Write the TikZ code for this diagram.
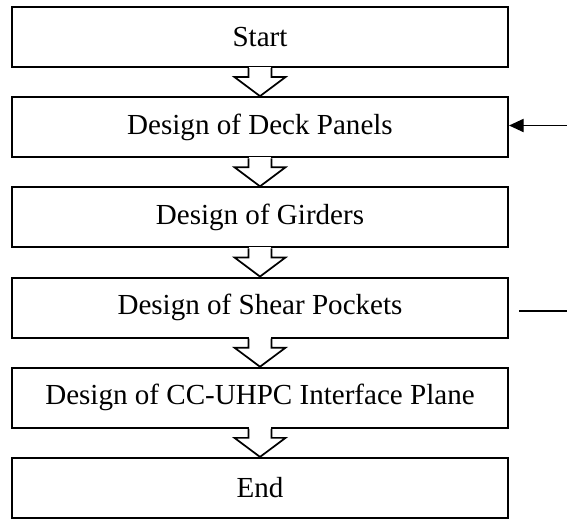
\documentclass[tikz,border=0pt]{standalone}
\usepackage{fontspec}
\setmainfont{Liberation Serif}
\usetikzlibrary{arrows.meta,calc}

\begin{document}
\begin{tikzpicture}[
  x=0.75pt, y=-0.75pt,
  font=\fontsize{21.8}{24}\selectfont,
  stepbox/.style={draw, fill=white, rectangle, line width=1.6pt,
                  minimum width=372pt, minimum height=45pt,
                  inner sep=0pt, align=center},
  blk/.style={line width=1.3pt, line join=miter},
  fb/.style={-{Triangle[length=11pt,width=10pt]}, line width=0.9pt},
  fbl/.style={line width=0.9pt},
]
  \useasboundingbox (0,0) rectangle (567,519);
  \def\xM{260}  % centre line of the steps

  % --- Steps ---
  \node[stepbox] (start)  at (\xM,37.0)  {Start};
  \node[stepbox] (deck)   at (\xM,127.2) {Design of Deck Panels};
  \node[stepbox] (girder) at (\xM,217.4) {Design of Girders};
  \node[stepbox] (shear)  at (\xM,307.6) {Design of Shear Pockets};
  \node[stepbox] (iface)  at (\xM,397.8) {Design of CC-UHPC Interface Plane};
  \node[stepbox] (end)    at (\xM,488.0) {End};

  % --- Block arrows between steps ---
  \foreach \a/\b in {start/deck, deck/girder, girder/shear,
                     shear/iface, iface/end} {
    \fill[white] ($(\a.south)+(-10.8,-1.5)$) rectangle ($(\b.north)+(10.8,-22)$);
    \fill[white] ($(\a.south)+(-25.5,9)$) -- (\b.north) -- ($(\a.south)+(25.5,9)$) -- cycle;
    \draw[blk] ($(\a.south)+(-11.5,0)$) -- ++(0,9) -- ++(-14,0)
      -- (\b.north) -- ($(\a.south)+(25.5,9)$) -- ++(-14,0) -- ++(0,-9);
  }

  % --- Side connectors ---
  \coordinate (fbin)  at (567,125.5);
  \coordinate (fbout) at (567,311);
  \draw[fb] (fbin) -- (fbin -| deck.east);
  \draw[fbl] ($(fbout -| shear.east)+(10,0)$) -- (fbout);

\end{tikzpicture}
\end{document}
